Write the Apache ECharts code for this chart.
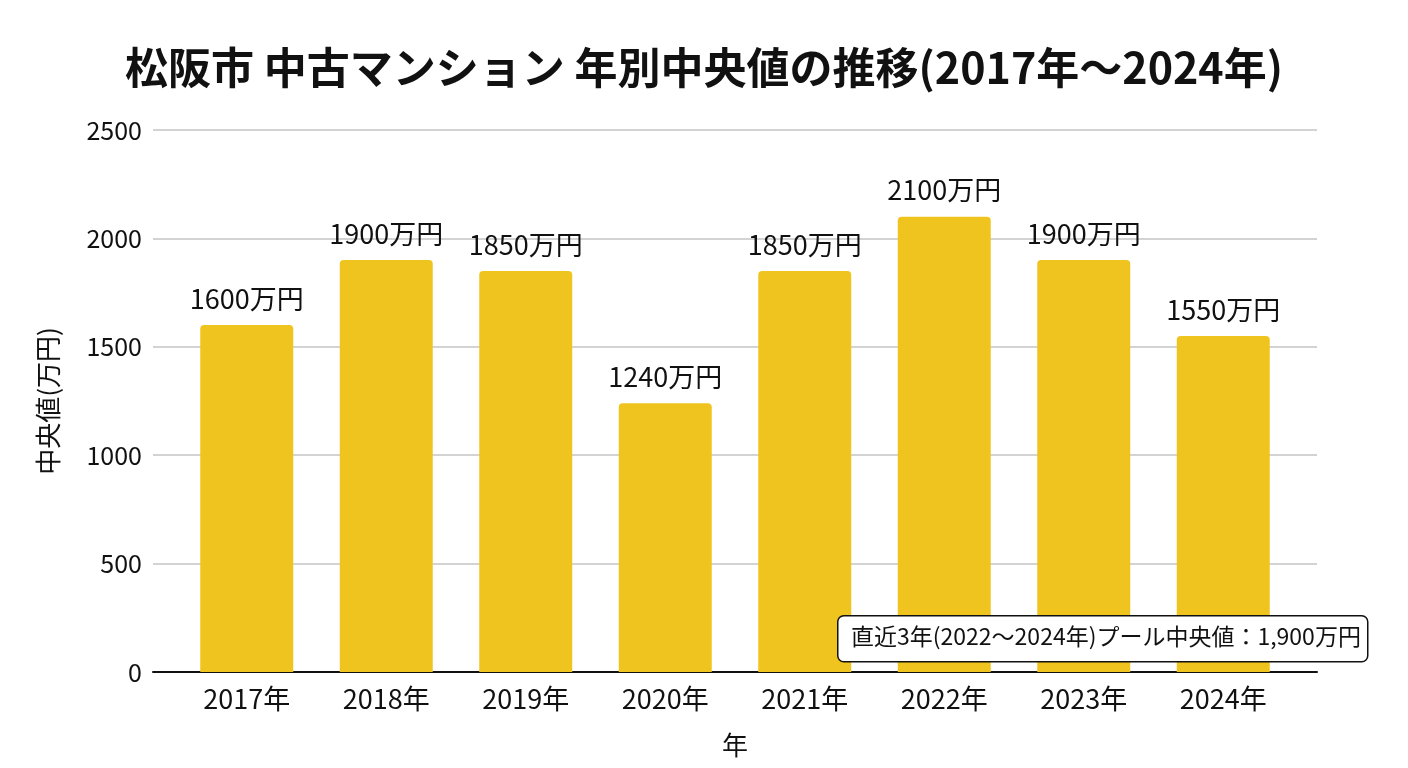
<!DOCTYPE html>
<html>
<head>
<meta charset="utf-8">
<title>松阪市 中古マンション 年別中央値の推移</title>
<script src="https://cdn.jsdelivr.net/npm/echarts@6/dist/echarts.min.js"></script>
<style>
  html, body { margin: 0; padding: 0; background: #fff; }
  #chart { width: 1408px; height: 768px; }
</style>
</head>
<body>
<div id="chart"></div>
<script>
// 年（カテゴリ）
const years = ['2017年', '2018年', '2019年', '2020年', '2021年', '2022年', '2023年', '2024年'];
// 中央値（万円）
const medians = [1600, 1900, 1850, 1240, 1850, 2100, 1900, 1550];
// 縦軸の目盛り
const yMin = 0;
const yMax = 2500;
const yStep = 500;
// 注記
const noteText = '直近3年(2022〜2024年)プール中央値：1,900万円';

const font = '"Noto Sans CJK JP", "Noto Sans", sans-serif';
const barColor = '#F0C41E';

const chart = echarts.init(document.getElementById('chart'));

chart.setOption({
    backgroundColor: '#ffffff',
    textStyle: { fontFamily: font, color: '#111' },
    title: {
        text: '松阪市 中古マンション 年別中央値の推移(2017年〜2024年)',
        left: 'center',
        top: 41,
        textStyle: { fontFamily: font, fontSize: 43, fontWeight: 'bold', color: '#111' }
    },
    grid: [
        // 目盛り線と軸線用
        { left: 153, right: 91, top: 130, bottom: 96 },
        // 棒グラフ用
        { left: 177, right: 115, top: 130, bottom: 96 }
    ],
    xAxis: [
        {
            type: 'category',
            gridIndex: 0,
            data: years,
            axisLine: { show: true, lineStyle: { color: '#111', width: 2 } },
            axisTick: { show: false },
            axisLabel: { show: false }
        },
        {
            type: 'category',
            gridIndex: 1,
            data: years,
            axisLine: { show: false },
            axisTick: { show: false },
            axisLabel: { fontFamily: font, fontSize: 27, color: '#111', margin: 13 },
            name: '年',
            nameLocation: 'middle',
            nameGap: 60,
            nameTextStyle: { fontFamily: font, fontSize: 26, color: '#111' }
        }
    ],
    yAxis: [
        {
            type: 'value',
            gridIndex: 0,
            min: yMin,
            max: yMax,
            interval: yStep,
            axisLine: { show: false },
            axisTick: { show: false },
            axisLabel: {
                fontFamily: font,
                fontSize: 25,
                color: '#111',
                margin: 11,
                formatter: v => String(v)
            },
            splitLine: { show: true, lineStyle: { color: '#c4c4c4', width: 1.5 } },
            name: '中央値(万円)',
            nameLocation: 'middle',
            nameRotate: 90,
            nameGap: 92,
            nameTextStyle: { fontFamily: font, fontSize: 26, color: '#111' }
        },
        {
            type: 'value',
            gridIndex: 1,
            min: yMin,
            max: yMax,
            interval: yStep,
            show: false
        }
    ],
    series: [
        {
            type: 'bar',
            xAxisIndex: 1,
            yAxisIndex: 1,
            data: medians,
            barWidth: 93,
            itemStyle: { color: barColor, borderRadius: [4, 4, 0, 0] },
            label: {
                show: true,
                position: 'top',
                distance: 13,
                formatter: '{c}万円',
                fontFamily: font,
                fontSize: 27,
                color: '#111'
            }
        }
    ],
    graphic: [
        {
            type: 'rect',
            left: 837,
            top: 615,
            z: 100,
            shape: { width: 530, height: 46, r: 6 },
            style: { fill: '#ffffff', stroke: '#111', lineWidth: 1.5 }
        },
        {
            type: 'text',
            left: 851,
            top: 625,
            z: 101,
            style: {
                text: noteText,
                fontFamily: font,
                fontSize: 23,
                fill: '#111'
            }
        }
    ]
});
</script>
</body>
</html>
